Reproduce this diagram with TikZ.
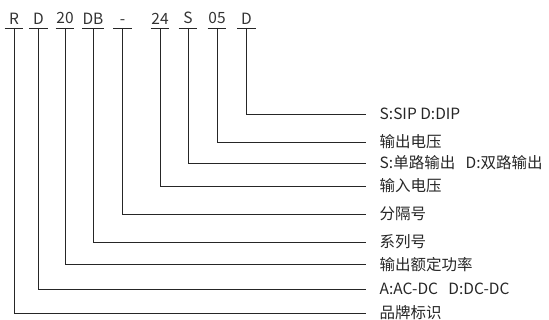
\documentclass[tikz,border=0pt]{standalone}
\usepackage{fontspec}
\setmainfont{Noto Sans CJK SC}
\begin{document}
\begin{tikzpicture}[x=1pt,y=-1pt,
  code/.style={anchor=south,minimum width=18.5pt,inner xsep=0pt,inner ysep=3.6pt,font=\fontsize{15.5}{16}\selectfont,text=black!80},
  lab/.style={anchor=west,inner xsep=13.5pt,inner ysep=0pt,font=\fontsize{15.5}{16}\selectfont,text=black!85},
  ln/.style={line width=0.9pt,draw=black!85}]
\useasboundingbox (0,0) rectangle (549,320);
\node[code] (c1) at (14,28) {R};
\node[code] (c2) at (38.5,28) {D};
\node[code] (c3) at (65,28) {20};
\node[code] (c4) at (93,28) {DB};
\node[code] (c5) at (122.5,28) {-};
\node[code] (c6) at (160,28) {24};
\node[code] (c7) at (188,28) {S};
\node[code] (c8) at (217,28) {05};
\node[code] (c9) at (246.5,28) {D};
\node[lab] (l1) at (366,313) {品牌标识};
\node[lab] (l2) at (366,289) {A:AC-DC\ \ \ D:DC-DC};
\node[lab] (l3) at (366,264.5) {输出额定功率};
\node[lab] (l4) at (366,242) {系列号};
\node[lab] (l5) at (366,214) {分隔号};
\node[lab] (l6) at (366,186) {输入电压};
\node[lab] (l7) at (366,163) {S:单路输出\ \ \ D:双路输出};
\node[lab] (l8) at (366,142) {输出电压};
\node[lab] (l9) at (366,114) {S:SIP D:DIP};
\foreach \i in {1,...,9}{
  \draw[ln] (c\i.south west) -- (c\i.south east);
  \draw[ln] (c\i.south) |- (l\i.west);
}
\end{tikzpicture}
\end{document}
